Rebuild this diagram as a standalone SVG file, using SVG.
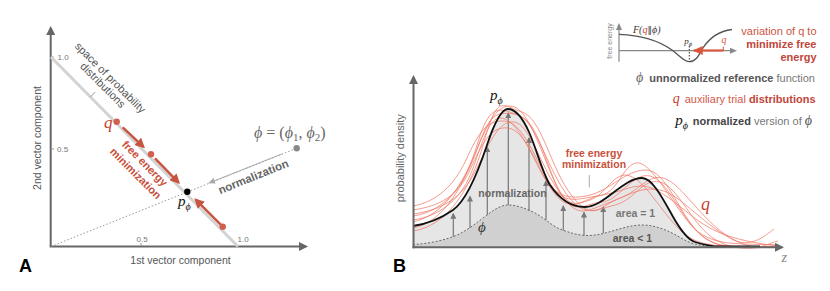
<svg xmlns="http://www.w3.org/2000/svg" width="830" height="291" viewBox="0 0 830 291">
<defs>
<style>
.sans{font-family:"Liberation Sans",Arial,sans-serif}
.math{font-family:"Liberation Serif","DejaVu Serif",serif;font-style:italic}
.tick{font-family:"Liberation Sans",Arial,sans-serif;font-size:8px;fill:#777}
.axis{stroke:#666;stroke-width:2;fill:none}
.redtxt{font-family:"Liberation Sans",Arial,sans-serif;font-weight:bold;font-size:11px;fill:#c8503c}
.qc{fill:none;stroke:#f07a68;stroke-width:1;opacity:0.75}
.narr{stroke:#777;stroke-width:1.2;fill:none}
</style>
<marker id="axArr" markerUnits="userSpaceOnUse" markerWidth="10" markerHeight="9" refX="7" refY="4.5" orient="auto"><path d="M0,0 L9,4.5 L0,9 z" fill="#666"/></marker>
<marker id="redArr" markerUnits="userSpaceOnUse" markerWidth="11" markerHeight="10" refX="8" refY="5" orient="auto"><path d="M0,0 L10,5 L0,10 z" fill="#c8553f"/></marker>
<marker id="grayArr" markerUnits="userSpaceOnUse" markerWidth="7" markerHeight="6" refX="5" refY="3" orient="auto"><path d="M0,0 L7,3 L0,6 z" fill="#aaa"/></marker>
<marker id="nArr" markerUnits="userSpaceOnUse" markerWidth="6" markerHeight="6" refX="5" refY="3" orient="auto"><path d="M0,0 L6,3 L0,6 z" fill="#777"/></marker>
<marker id="insArr" markerUnits="userSpaceOnUse" markerWidth="7" markerHeight="6" refX="5" refY="3" orient="auto"><path d="M0,0 L7,3 L0,6 z" fill="#888"/></marker>
<marker id="insRed" markerUnits="userSpaceOnUse" markerWidth="11" markerHeight="9" refX="9" refY="4.5" orient="auto"><path d="M0,0 L10,4.5 L0,9 z" fill="#d9573f"/></marker>
</defs>
<rect width="830" height="291" fill="#fff"/>

<!-- ===== Panel A ===== -->
<g id="panelA">
  <g id="A-axes">
    <line class="axis" x1="50.7" y1="246.5" x2="50.7" y2="28" marker-end="url(#axArr)"/>
    <line class="axis" x1="49.7" y1="246.5" x2="306" y2="246.5" marker-end="url(#axArr)"/>
    <line x1="51" y1="57" x2="54" y2="57" stroke="#999" stroke-width="1"/>
    <line x1="51" y1="149" x2="54" y2="149" stroke="#999" stroke-width="1"/>
    <line x1="141" y1="243" x2="141" y2="246" stroke="#999" stroke-width="1"/>
    <text class="tick" x="57.5" y="59.5">1.0</text>
    <text class="tick" x="57" y="152">0.5</text>
    <text class="tick" x="136.5" y="241.5">0.5</text>
    <text class="tick" x="237.5" y="241.5">1.0</text>
    <text class="sans" x="180.5" y="263.5" font-size="10.5" fill="#555" text-anchor="middle">1st vector component</text>
    <text class="sans" transform="translate(41,138) rotate(-90)" font-size="10.5" fill="#555" text-anchor="middle">2nd vector component</text>
  </g>
  <g id="A-simplex">
    <line x1="51" y1="246.5" x2="296.7" y2="148.3" stroke="#999" stroke-width="1" stroke-dasharray="1.5,2"/>
    <line x1="51" y1="57" x2="238" y2="246.5" stroke="#d3d3d3" stroke-width="3"/>
    <line x1="90.5" y1="96.8" x2="95.3" y2="92" stroke="#999" stroke-width="1"/>
    <text class="sans" transform="translate(107.7,80.3) rotate(45)" font-size="11" fill="#555" text-anchor="middle">space of probability</text>
    <text class="sans" transform="translate(100.2,87.8) rotate(45)" font-size="11" fill="#555" text-anchor="middle">distributions</text>
  </g>
  <g id="A-connectors">
    <line x1="281.7" y1="154" x2="210" y2="182.6" stroke="#aaa" stroke-width="1" marker-end="url(#grayArr)"/>
    <line x1="122.7" y1="127.3" x2="143.5" y2="146.9" stroke="#c8553f" stroke-width="2.5" marker-end="url(#redArr)"/>
    <line x1="155" y1="158.3" x2="178.6" y2="182.6" stroke="#c8553f" stroke-width="2.5" marker-end="url(#redArr)"/>
    <line x1="222.7" y1="226.7" x2="195.7" y2="199.7" stroke="#c8553f" stroke-width="2.5" marker-end="url(#redArr)"/>
    <text class="sans" transform="translate(254.8,180.3) rotate(-22)" font-size="11.5" font-weight="bold" fill="#666" text-anchor="middle">normalization</text>
    <text class="redtxt" transform="translate(142.2,166.1) rotate(45)" text-anchor="middle">free energy</text>
    <text class="redtxt" transform="translate(133,176.1) rotate(45)" text-anchor="middle">minimization</text>
  </g>
  <g id="A-q">
    <circle cx="116.7" cy="121.7" r="3.2" fill="#d0604c"/>
    <circle cx="151" cy="154.3" r="3.2" fill="#d0604c"/>
    <circle cx="222.7" cy="226.7" r="3.2" fill="#d0604c"/>
    <text class="math" x="104" y="128" font-size="17" fill="#c8402c">q</text>
  </g>
  <g id="A-pphi">
    <circle cx="187.3" cy="191.7" r="3.2" fill="#000"/>
    <text class="math" x="178" y="206" font-size="15" fill="#111">p<tspan font-size="10" dy="4">ϕ</tspan></text>
  </g>
  <g id="A-phi">
    <circle cx="296.7" cy="148.3" r="3.2" fill="#888"/>
    <text class="math" x="254" y="137.5" font-size="16" fill="#666">ϕ<tspan font-style="normal"> = (</tspan>ϕ<tspan font-style="normal" font-size="11" dy="3">1</tspan><tspan font-style="normal" dy="-3">, </tspan>ϕ<tspan font-style="normal" font-size="11" dy="3">2</tspan><tspan font-style="normal" dy="-3">)</tspan></text>
  </g>
  <text class="sans" x="19" y="272" font-size="18" font-weight="bold" fill="#000">A</text>
</g>

<!-- ===== Panel B ===== -->
<g id="panelB">
  <g id="B-areas">
    <path d="M413,226 C426.3,224 439.7,219.3 453,210 C464.3,202.1 475.7,178.9 487,145 C494,124 501,109 508,109 C515,109 522,116.6 529,132 C536,147.4 543,174.5 550,185 C561.7,202.5 573.3,207 585,207 C604,207 623,178 642,178 C652,178 662,197 672,215 C679.7,228.8 687.3,239.7 695,242 C703.3,244.5 711.7,246.5 720,246.5 L720,247 L413,247 Z" fill="#e6e6e6"/>
    <path d="M413,244.5 C426.3,243.8 439.7,241.4 453,236.7 C464.3,232.7 475.7,223.5 487,215 C494,209.75 501,205 508,205 C517,205 526,208.5 535,213 C543.3,217.2 551.7,225.7 560,229 C569.3,232.7 578.7,235.5 588,235.5 C606,235.5 624,225 642,225 C652,225 662,228 672,233 C679.7,236.8 687.3,242.5 695,244 C703.3,245.7 711.7,247 720,247 L413,247 Z" fill="#d0d0d0"/>
    <path d="M413,244.5 C426.3,243.8 439.7,241.4 453,236.7 C464.3,232.7 475.7,223.5 487,215 C494,209.75 501,205 508,205 C517,205 526,208.5 535,213 C543.3,217.2 551.7,225.7 560,229 C569.3,232.7 578.7,235.5 588,235.5 C606,235.5 624,225 642,225 C652,225 662,228 672,233 C679.7,236.8 687.3,242.5 695,244 C703.3,245.7 711.7,247 720,247" fill="none" stroke="#666" stroke-width="1" stroke-dasharray="2,1.8"/>
  </g>
  <g id="B-connectors">
    <line class="narr" x1="453.3" y1="236.7" x2="453.3" y2="213.7" marker-end="url(#nArr)"/>
    <line class="narr" x1="470" y1="228" x2="470" y2="196.5" marker-end="url(#nArr)"/>
    <line class="narr" x1="487.3" y1="215" x2="487.3" y2="147" marker-end="url(#nArr)"/>
    <line class="narr" x1="508.3" y1="205" x2="508.3" y2="113" marker-end="url(#nArr)"/>
    <line class="narr" x1="529" y1="211" x2="529" y2="138" marker-end="url(#nArr)"/>
    <line class="narr" x1="546" y1="220" x2="546" y2="181" marker-end="url(#nArr)"/>
    <line class="narr" x1="563.3" y1="230.5" x2="563.3" y2="206" marker-end="url(#nArr)"/>
    <line class="narr" x1="584" y1="235.5" x2="584" y2="212.5" marker-end="url(#nArr)"/>
    <line class="narr" x1="603.3" y1="233" x2="603.3" y2="207" marker-end="url(#nArr)"/>
  </g>
  <g id="B-q">
    <path class="qc" d="M413,222 C438,216 456,195 470,165 S492,106 510,106 S540,150 556,185 S585,203 602,202 S632,172 650,176 S682,220 702,236 S745,246 778,247"/>
    <path class="qc" d="M413,216 C440,212 462,192 476,152 S496,112 515,114 S546,165 565,192 S595,210 615,205 S642,178 660,182 S692,226 716,240 S760,246 778,246"/>
    <path class="qc" d="M413,206 C436,202 454,186 466,160 S486,120 504,121 S532,152 548,180 S578,198 598,196 S622,166 636,163 S670,200 690,224 S740,243 778,245"/>
    <path class="qc" d="M413,228 C445,222 466,182 478,142 S500,108 520,116 S546,170 562,195 S588,210 608,203 S640,186 660,190 S700,222 730,238 S764,244 778,241"/>
    <path class="qc" d="M413,210 C440,206 458,196 470,170 S490,126 508,128 S538,170 552,190 S574,205 590,200 S614,170 630,176 S660,210 680,230 S725,245 765,247"/>
    <path class="qc" d="M413,231 C446,226 470,192 484,142 S502,106 522,112 S550,168 572,196 S600,205 620,198 S650,170 668,180 S706,226 736,241 C752,247 765,236 774,229"/>
    <path class="qc" d="M413,214 C442,210 462,198 475,172 S498,120 514,122 S540,165 558,190 S582,198 602,195 S628,186 642,186 S674,202 692,216 S728,240 778,246"/>
    <path class="qc" d="M413,220 C440,216 458,200 468,180 S486,118 500,118 S526,142 540,170 S570,200 590,195 S626,170 646,170 S678,212 698,232 S742,246 778,247"/>
    <text class="math" x="701" y="210" font-size="18" fill="#c8402c">q</text>
  </g>
  <g id="B-pphi">
    <path d="M413,226 C426.3,224 439.7,219.3 453,210 C464.3,202.1 475.7,178.9 487,145 C494,124 501,109 508,109 C515,109 522,116.6 529,132 C536,147.4 543,174.5 550,185 C561.7,202.5 573.3,207 585,207 C604,207 623,178 642,178 C652,178 662,197 672,215 C679.7,228.8 687.3,239.7 695,242 C703.3,244.5 711.7,246.5 720,246.5 L760,246.5" fill="none" stroke="#111" stroke-width="1.8"/>
    <text class="math" x="490" y="100" font-size="15" fill="#111">p<tspan font-size="10" dy="4">ϕ</tspan></text>
  </g>
  <g id="B-labels">
    <text class="sans" x="512.5" y="196.7" font-size="10.5" font-weight="bold" fill="#666" text-anchor="middle">normalization</text>
    <text class="math" x="478" y="231.5" font-size="15" fill="#333">ϕ</text>
    <line x1="589.3" y1="175" x2="589.3" y2="187.3" stroke="#aaa" stroke-width="1"/>
    <text class="sans" x="594" y="156.7" font-size="10.5" font-weight="bold" fill="#c8503c" text-anchor="middle">free energy</text>
    <text class="sans" x="594" y="167.5" font-size="10.5" font-weight="bold" fill="#c8503c" text-anchor="middle">minimization</text>
    <text class="sans" x="635.5" y="217.3" font-size="10.5" font-weight="bold" fill="#777" text-anchor="middle">area = 1</text>
    <text class="sans" x="632.5" y="242.3" font-size="10.5" font-weight="bold" fill="#555" text-anchor="middle">area &lt; 1</text>
  </g>
  <g id="B-axes">
    <line class="axis" x1="413.5" y1="248.3" x2="413.5" y2="77" marker-end="url(#axArr)"/>
    <line class="axis" x1="412.5" y1="247.3" x2="782" y2="247.3" marker-end="url(#axArr)"/>
    <text class="sans" transform="translate(404,158.3) rotate(-90)" font-size="11" fill="#666" text-anchor="middle">probability density</text>
    <text class="math" x="781.5" y="261.5" font-size="14" fill="#888">z</text>
  </g>
  <text class="sans" x="393" y="272" font-size="18" font-weight="bold" fill="#000">B</text>
</g>

<!-- ===== Inset ===== -->
<g id="inset">
  <line x1="619" y1="61.7" x2="619" y2="25" stroke="#888" stroke-width="1.2" marker-end="url(#insArr)"/>
  <line x1="619" y1="50.7" x2="735" y2="50.7" stroke="#888" stroke-width="1.2" marker-end="url(#insArr)"/>
  <text class="sans" transform="translate(612,41) rotate(-90)" font-size="7" fill="#888" text-anchor="middle">free energy</text>
  <path d="M619,34.3 C640,35 658,40 672,50 C680,56 684,61.7 689.3,61.7 C696,61.7 699,55 703,48 C710,37 720,31 732,29.5" fill="none" stroke="#555" stroke-width="1.3"/>
  <line x1="689.3" y1="46" x2="689.3" y2="61.7" stroke="#333" stroke-width="1" stroke-dasharray="1.5,1.5"/>
  <line x1="723.3" y1="46.5" x2="723.3" y2="50.7" stroke="#d9573f" stroke-width="1"/>
  <line x1="723.3" y1="50.5" x2="693.7" y2="50.5" stroke="#d9573f" stroke-width="2.2" marker-end="url(#insRed)"/>
  <text class="math" x="633" y="32.7" font-size="10" fill="#333">F(<tspan fill="#c8402c">q</tspan><tspan font-family="DejaVu Sans" font-style="normal" font-size="9">‖</tspan>ϕ)</text>
  <text class="math" x="684.3" y="44" font-size="9" fill="#333">p<tspan font-size="6.5" dy="2">ϕ</tspan></text>
  <text class="math" x="721.5" y="43.3" font-size="10" fill="#d9573f">q</text>
  <text class="sans" x="816.5" y="35" font-size="11" fill="#cc5544" text-anchor="end">variation of q to</text>
  <text class="sans" x="816.5" y="47.8" font-size="11" font-weight="bold" fill="#c0453a" text-anchor="end">minimize free</text>
  <text class="sans" x="816.5" y="60.5" font-size="11" font-weight="bold" fill="#c0453a" text-anchor="end">energy</text>
</g>

<!-- ===== Legend ===== -->
<g id="legend">
  <text class="sans" x="815" y="82.3" font-size="11" text-anchor="end"><tspan class="math" font-size="14" fill="#666">ϕ</tspan><tspan font-weight="bold" fill="#555" dx="6">unnormalized reference</tspan><tspan fill="#777"> function</tspan></text>
  <text class="sans" x="815.5" y="102.7" font-size="11" text-anchor="end"><tspan class="math" font-size="14" fill="#c8402c">q</tspan><tspan fill="#d05a4a" dx="5">auxiliary trial </tspan><tspan font-weight="bold" fill="#c0453a">distributions</tspan></text>
  <text class="sans" x="812" y="125" font-size="11" text-anchor="end"><tspan class="math" font-size="15" fill="#111">p</tspan><tspan class="math" font-size="10" fill="#111" dy="4">ϕ</tspan><tspan font-weight="bold" fill="#444" dx="5" dy="-4">normalized</tspan><tspan fill="#777"> version of </tspan><tspan class="math" font-size="14" fill="#555">ϕ</tspan></text>
</g>
</svg>
